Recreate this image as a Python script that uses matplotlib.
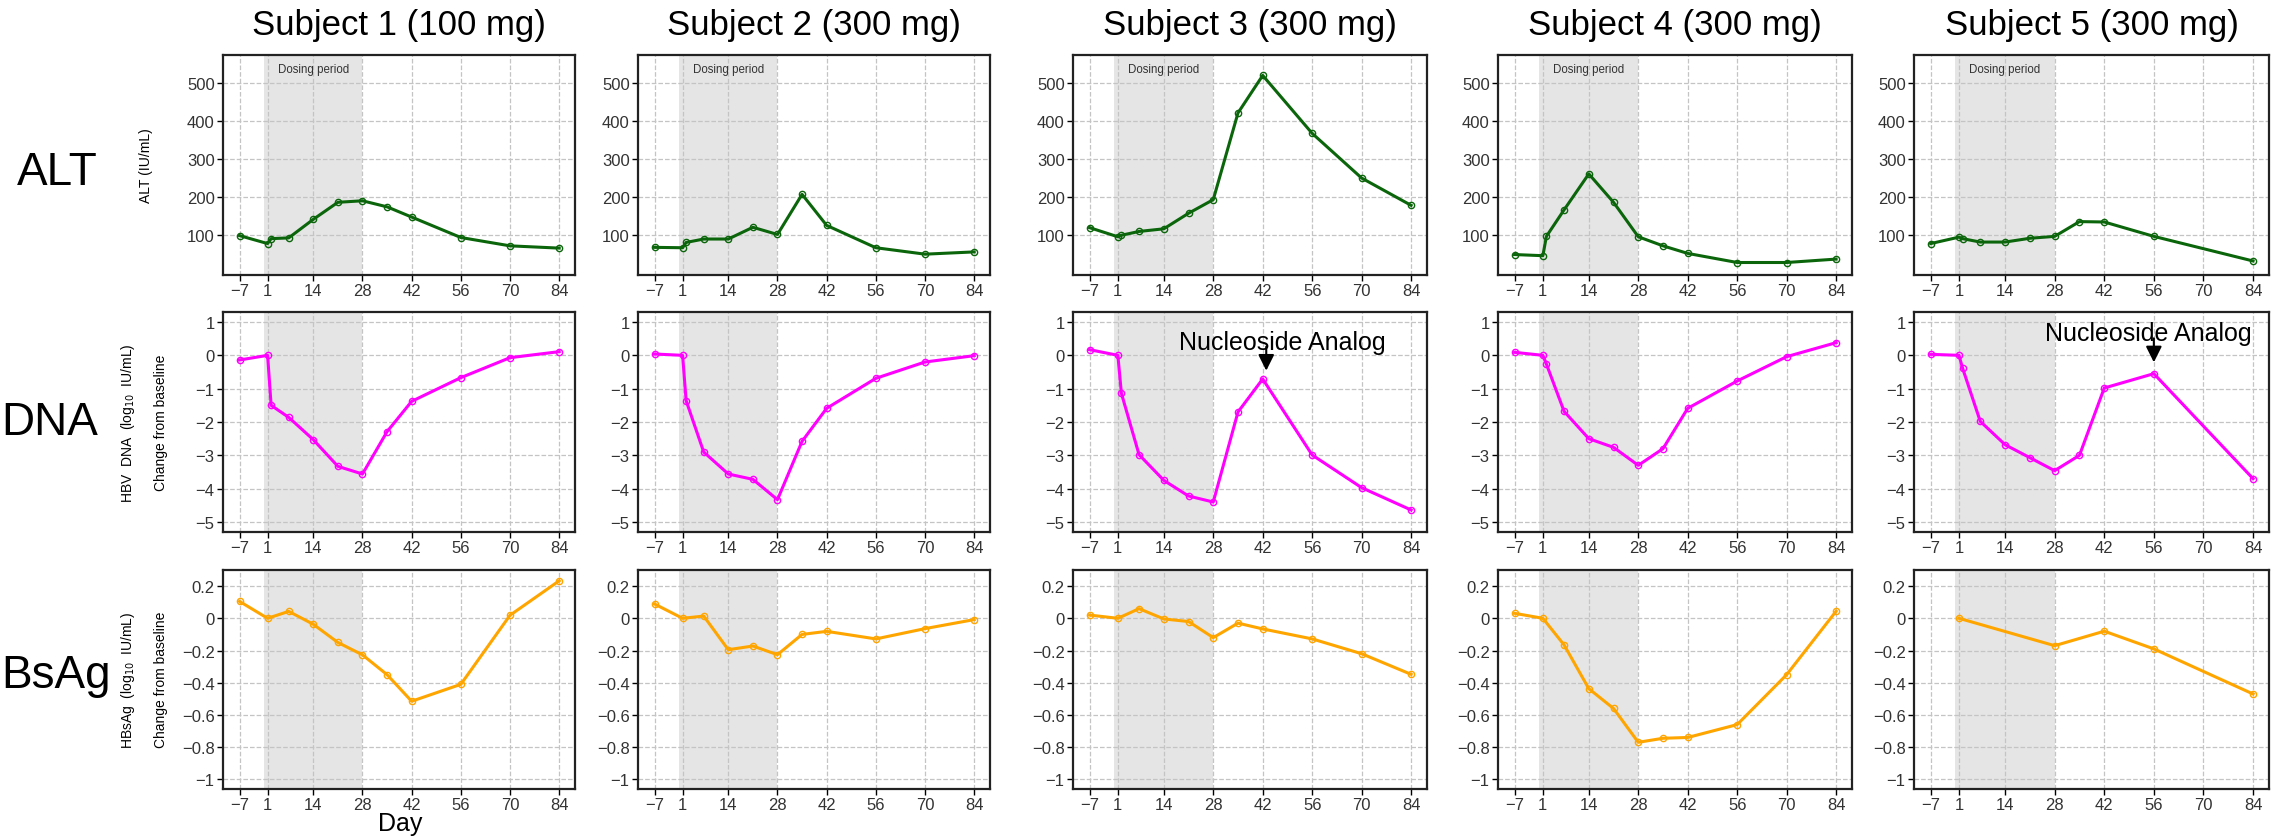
import numpy as np
import matplotlib
matplotlib.use('Agg')
import matplotlib.pyplot as plt

plt.rcParams['font.family'] = ['Liberation Sans', 'DejaVu Sans']

# study days for each measurement
days = [-7, 1, 2, 7, 14, 21, 28, 35, 42, 56, 70, 84]
days_s5 = [-7, 1, 2, 7, 14, 21, 28, 35, 42, 56, 84]
hbsag_days = [-7, 1, 7, 14, 21, 28, 35, 42, 56, 70, 84]
hbsag_days_s5 = [1, 28, 42, 56, 84]

titles = ['Subject 1 (100 mg)', 'Subject 2 (300 mg)', 'Subject 3 (300 mg)',
          'Subject 4 (300 mg)', 'Subject 5 (300 mg)']

# ALT (IU/mL)
alt_s1 = [98, 77, 90, 92, 141, 186, 190, 174, 147, 93, 71, 65]
alt_s2 = [67, 66, 80, 89, 89, 120, 101, 207, 125, 66, 49, 55]
alt_s3 = [119, 95, 99, 109, 116, 157, 193, 422, 521, 368, 250, 178]
alt_s4 = [48, 45, 96, 166, 261, 186, 95, 71, 51, 27, 27, 36]
alt_s5 = [77, 94, 90, 81, 81, 91, 96, 135, 134, 96, 31]

# HBV DNA change from baseline (log10 IU/mL)
dna_s1 = [-0.14, 0.0, -1.5, -1.86, -2.53, -3.33, -3.56, -2.29, -1.38, -0.67, -0.07, 0.11]
dna_s2 = [0.04, 0.0, -1.36, -2.9, -3.56, -3.72, -4.33, -2.58, -1.59, -0.69, -0.2, -0.01]
dna_s3 = [0.17, 0.0, -1.14, -2.98, -3.75, -4.22, -4.4, -1.7, -0.71, -2.99, -3.97, -4.64]
dna_s4 = [0.09, 0.0, -0.26, -1.68, -2.5, -2.76, -3.3, -2.8, -1.59, -0.77, -0.04, 0.38]
dna_s5 = [0.03, 0.0, -0.38, -1.98, -2.68, -3.07, -3.46, -3.0, -0.98, -0.55, -3.7]

# HBsAg change from baseline (log10 IU/mL)
hbsag_s1 = [0.105, 0.0, 0.043, -0.037, -0.15, -0.227, -0.35, -0.515, -0.41, 0.019, 0.233]
hbsag_s2 = [0.089, 0.0, 0.014, -0.195, -0.172, -0.226, -0.1, -0.081, -0.128, -0.064, -0.008]
hbsag_s3 = [0.02, 0.0, 0.06, -0.004, -0.02, -0.12, -0.03, -0.066, -0.128, -0.22, -0.348]
hbsag_s4 = [0.031, 0.0, -0.165, -0.437, -0.56, -0.77, -0.745, -0.74, -0.66, -0.35, 0.044]
hbsag_s5 = [0.0, -0.17, -0.08, -0.19, -0.47]

alt_all = [(days, alt_s1), (days, alt_s2), (days, alt_s3), (days, alt_s4), (days_s5, alt_s5)]
dna_all = [(days, dna_s1), (days, dna_s2), (days, dna_s3), (days, dna_s4), (days_s5, dna_s5)]
hbsag_all = [(hbsag_days, hbsag_s1), (hbsag_days, hbsag_s2), (hbsag_days, hbsag_s3),
             (hbsag_days, hbsag_s4), (hbsag_days_s5, hbsag_s5)]

xticks = [-7, 1, 14, 28, 42, 56, 70, 84]
alt_ticks = [100, 200, 300, 400, 500]
dna_ticks = [1, 0, -1, -2, -3, -4, -5]
hbsag_ticks = [0.2, 0, -0.2, -0.4, -0.6, -0.8, -1]
hbsag_labels = ['0.2', '0', '\u22120.2', '\u22120.4', '\u22120.6', '\u22120.8', '\u22121']

# nucleoside analog start: subject index -> (arrow day, text day, text y)
na_marks = {2: (43, 47.5, 0.2), 4: (56, 54.5, 0.45)}

W, H = 2272, 837
fig = plt.figure(figsize=(W / 100, H / 100), dpi=100)

col_px = [(223, 575), (638, 990), (1073, 1427), (1498, 1852), (1914, 2269)]
row_px = [(56, 276), (313, 533), (571, 790)]

def rect(c, r):
    x0, x1 = col_px[c]
    y0, y1 = row_px[r]
    return [x0 / W, 1 - y1 / H, (x1 - x0) / W, (y1 - y0) / H]

def style(ax):
    ax.set_xlim(-11.7, 88.5)
    ax.set_xticks(xticks)
    ax.set_xticklabels(['\u22127' if t < 0 else str(t) for t in xticks])
    ax.axvspan(0, 28, color='#e5e5e5', zorder=0, lw=0)
    ax.set_axisbelow(True)
    ax.grid(True, ls='--', color='#c4c4c4', lw=0.9)
    ax.tick_params(direction='out', length=4, width=1, labelsize=12,
                   colors='#333333', pad=2)
    ax.tick_params(axis='both', color='black')
    for s in ax.spines.values():
        s.set_linewidth(1.6)
        s.set_color('#222222')

for i in range(5):
    # ALT
    ax = fig.add_axes(rect(i, 0))
    style(ax)
    x, y = alt_all[i]
    ax.plot(x, y, color='#0b650b', lw=2.2, marker='o', ms=4.5, mfc='none', mew=1)
    ax.set_ylim(-6, 575)
    ax.set_yticks(alt_ticks)
    ax.text(14, 538, 'Dosing period', ha='center', va='center', fontsize=8.3, color='#333333')
    ax.set_title(titles[i], fontsize=25, pad=15)

    # HBV DNA
    ax = fig.add_axes(rect(i, 1))
    style(ax)
    x, y = dna_all[i]
    ax.plot(x, y, color='#ff00ff', lw=2.2, marker='o', ms=4.5, mfc='none', mew=1)
    ax.set_ylim(-5.3, 1.3)
    ax.set_yticks(dna_ticks)
    ax.set_yticklabels([str(t).replace('-', '\u2212') for t in dna_ticks])
    if i in na_marks:
        ad, tx, ty = na_marks[i]
        ax.text(tx, ty, 'Nucleoside Analog', ha='center', va='baseline', fontsize=18)
        ax.annotate('', xy=(ad, ty - 0.66), xytext=(ad, ty + 0.06),
                    arrowprops=dict(arrowstyle='-|>', color='black', lw=1.5,
                                    mutation_scale=24, shrinkA=0, shrinkB=0))

    # HBsAg
    ax = fig.add_axes(rect(i, 2))
    style(ax)
    x, y = hbsag_all[i]
    ax.plot(x, y, color='#ffa500', lw=2.2, marker='o', ms=4.5, mfc='none', mew=1)
    ax.set_ylim(-1.06, 0.3)
    ax.set_yticks(hbsag_ticks)
    ax.set_yticklabels(hbsag_labels)

# row labels
fig.text(98 / W, 1 - 185 / H, 'ALT', ha='right', va='baseline', fontsize=33)
fig.text(98 / W, 1 - 435 / H, 'DNA', ha='right', va='baseline', fontsize=33)
fig.text(1 / W, 1 - 688 / H, 'BsAg', ha='left', va='baseline', fontsize=33)

# y-axis titles of the first column
fig.text(146 / W, 1 - 166 / H, 'ALT (IU/mL)', rotation=90, ha='center', va='center', fontsize=10)
fig.text(128 / W, 1 - 423 / H, r'HBV  DNA  (log$_{10}$  IU/mL)', rotation=90,
         ha='center', va='center', fontsize=10)
fig.text(161 / W, 1 - 423 / H, 'Change from baseline', rotation=90, ha='center', va='center', fontsize=10)
fig.text(128 / W, 1 - 680 / H, r'HBsAg  (log$_{10}$  IU/mL)', rotation=90,
         ha='center', va='center', fontsize=10)
fig.text(161 / W, 1 - 680 / H, 'Change from baseline', rotation=90, ha='center', va='center', fontsize=10)

fig.text(400 / W, 1 - 831 / H, 'Day', ha='center', va='baseline', fontsize=18)

fig.savefig('out.png', dpi=100)
